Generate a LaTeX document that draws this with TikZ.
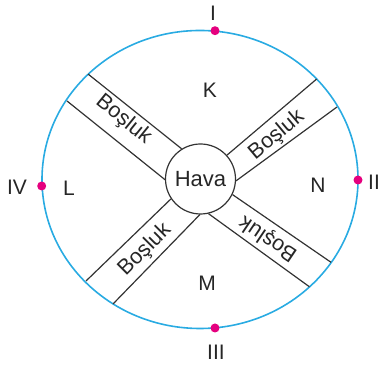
\documentclass[tikz,border=0pt]{standalone}
\usepackage{fontspec}
\setmainfont{Liberation Sans}
\usetikzlibrary{positioning}

\definecolor{rim}{HTML}{29ABE2}
\definecolor{pin}{HTML}{E5007E}

\begin{document}
\begin{tikzpicture}[
x=0.5pt, y=-0.5pt,
wall/.style={draw=black!80, line width=0.6pt},
gap/.style={font=\fontsize{10.8}{12}\selectfont, text=black!85, inner sep=0pt},
region/.style={font=\fontsize{10.5}{12}\selectfont, text=black!85},
pole/.style={circle, fill=pin, inner sep=0pt, minimum size=4.5pt}
]

\useasboundingbox (0,0) rectangle (381,367);

\draw[rim, line width=0.8pt] (200,179.5) ellipse [x radius=158, y radius=149];

\node[draw=black!80, line width=0.6pt, circle, minimum size=35pt, inner sep=0pt,
      font=\fontsize{11}{12}\selectfont, text=black!85] (hava) at (200.5,179) {Hava};

\coordinate (nwA) at (88,74);
\coordinate (nwB) at (67,101);
\coordinate (neA) at (316.7,79);
\coordinate (neB) at (337,107);
\coordinate (swA) at (86,281);
\coordinate (swB) at (113,304);
\coordinate (seA) at (331,262.3);
\coordinate (seB) at (309.3,286.7);

\draw[wall] (hava.122) -- (nwA);
\draw[wall] (hava.181) -- (nwB);
\draw[wall] (hava.42) -- (neA);
\draw[wall] (hava.-3) -- (neB);
\draw[wall] (hava.214) -- (swA);
\draw[wall] (hava.269) -- (swB);
\draw[wall] (hava.334) -- (seA);
\draw[wall] (hava.283) -- (seB);

\node[gap, rotate=-39] (bnw) at (123.5,120) {Boşluk};
\node[gap, rotate=40] (bne) at (276.7,135) {Boşluk};
\node[gap, rotate=45] (bsw) at (145,250) {Boşluk};
\node[gap, rotate=146] (bse) at (268.3,238.3) {Boşluk};

\node[region] (k) at (210,90) {K};
\node[region] (l) at (69,188) {L};
\node[region] (n) at (318,185) {N};
\node[region] (m) at (207,283) {M};

\node[pole] (p1) at (215,30.7) {};
\node[pole] (p2) at (358,180) {};
\node[pole] (p3) at (215,328) {};
\node[pole] (p4) at (41.7,186) {};

\node[region] (t1) at (213,13) {I};
\node[region] (t2) at (374,182) {II};
\node[region] (t3) at (216,352) {III};
\node[region] (t4) at (17,187) {IV};

\end{tikzpicture}
\end{document}
